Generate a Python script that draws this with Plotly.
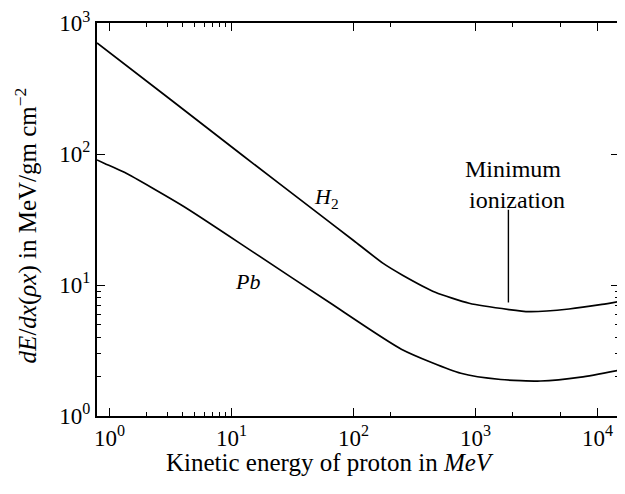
import math
import plotly.graph_objects as go

# Data (kinetic energy in MeV, dE/dx in MeV cm^2/g)
energy_h2 = [0.790, 3.16, 12.36, 50.1, 100, 173.8, 252.4, 467.7, 887.2, 1884, 2748, 5834, 10890, 15000]
dedx_h2 = [706, 261, 97.5, 35.9, 21.9, 14.7, 11.9, 8.81, 7.26, 6.50, 6.27, 6.56, 7.11, 7.50]

energy_pb = [0.790, 0.912, 1.324, 4.06, 15.85, 63.1, 246.6, 758.6, 1611, 3420, 7295, 15000]
dedx_pb = [90.2, 84.9, 72.6, 39.8, 17.3, 7.38, 3.24, 2.12, 1.90, 1.85, 1.98, 2.24]

x_tickvals = [1, 10, 100, 1000, 10000]
x_ticktext = ["10<sup>0</sup>", "10<sup>1</sup>", "10<sup>2</sup>", "10<sup>3</sup>", "10<sup>4</sup>"]
y_tickvals = [1, 10, 100, 1000]
y_ticktext = ["10<sup>0</sup>", "10<sup>1</sup>", "10<sup>2</sup>", "10<sup>3</sup>"]

min_ion_energy = 1860
min_ion_top = 37.6
min_ion_bottom = 7.36

labels = [
    ("<i>H</i><sub>2</sub>", 60.6, 46.5, 22),
    ("<i>Pb</i>", 13.5, 10.6, 22),
    ("Minimum", 2011, 76.4, 24),
    ("ionization", 2189, 44.6, 24),
]

FONT = "Liberation Serif, Times New Roman, serif"

fig = go.Figure()
fig.add_trace(go.Scatter(x=energy_h2, y=dedx_h2, mode="lines",
                         line=dict(color="black", width=1.7, shape="spline", smoothing=0.6),
                         showlegend=False, hoverinfo="skip"))
fig.add_trace(go.Scatter(x=energy_pb, y=dedx_pb, mode="lines",
                         line=dict(color="black", width=1.7, shape="spline", smoothing=0.6),
                         showlegend=False, hoverinfo="skip"))
fig.add_trace(go.Scatter(x=[min_ion_energy, min_ion_energy], y=[min_ion_top, min_ion_bottom],
                         mode="lines", line=dict(color="black", width=1.4),
                         showlegend=False, hoverinfo="skip"))

for text, xv, yv, fs in labels:
    fig.add_annotation(x=math.log10(xv), y=math.log10(yv), xref="x", yref="y",
                       text=text, showarrow=False, xanchor="center", yanchor="middle",
                       font=dict(family=FONT, size=fs, color="black"))

fig.add_annotation(x=0.4464, y=-0.118, xref="paper", yref="paper",
                   text="Kinetic energy of proton in <i>MeV</i>", showarrow=False,
                   xanchor="center", yanchor="middle",
                   font=dict(family=FONT, size=25, color="black"))
fig.add_annotation(x=-0.136, y=0.485, xref="paper", yref="paper", textangle=-90,
                   text="<i>dE</i>/<i>dx</i>(<i>ρx</i>) in MeV/gm cm<sup>−2</sup>",
                   showarrow=False, xanchor="center", yanchor="middle",
                   font=dict(family=FONT, size=25, color="black"))

fig.update_xaxes(type="log", range=[-0.1025, 4.176], tickmode="array", automargin=False,
                 tickvals=x_tickvals, ticktext=x_ticktext, ticklabeloverflow="allow",
                 ticks="inside", ticklen=8, tickwidth=1.3, tickcolor="black",
                 showline=True, linecolor="black", linewidth=2, mirror="ticks",
                 showgrid=False, zeroline=False,
                 tickfont=dict(family=FONT, size=23, color="black"),
                 minor=dict(tickmode="array",
                            tickvals=[2, 3, 4, 5, 6, 7, 8, 9, 200, 2000, 5000],
                            ticks="inside", ticklen=4, tickcolor="black", showgrid=False))
fig.update_yaxes(type="log", range=[0, 3.001], tickmode="array", automargin=False,
                 tickvals=y_tickvals, ticktext=y_ticktext, ticklabeloverflow="allow",
                 ticks="inside", ticklen=8, tickwidth=1.3, tickcolor="black",
                 showline=True, linecolor="black", linewidth=2, mirror="ticks",
                 showgrid=False, zeroline=False,
                 tickfont=dict(family=FONT, size=23, color="black"),
                 minor=dict(tickmode="array",
                            tickvals=[2, 3, 4, 5, 6, 7, 8, 9],
                            ticks="inside", ticklen=4, tickcolor="black", showgrid=False))

# The page body adds an 8px margin, so the figure is sized to fill the rest of the window.
fig.update_layout(width=617, height=486, margin=dict(l=89, r=6, t=15, b=78),
                  plot_bgcolor="white", paper_bgcolor="white", showlegend=False)

fig.write_html("out.html")
